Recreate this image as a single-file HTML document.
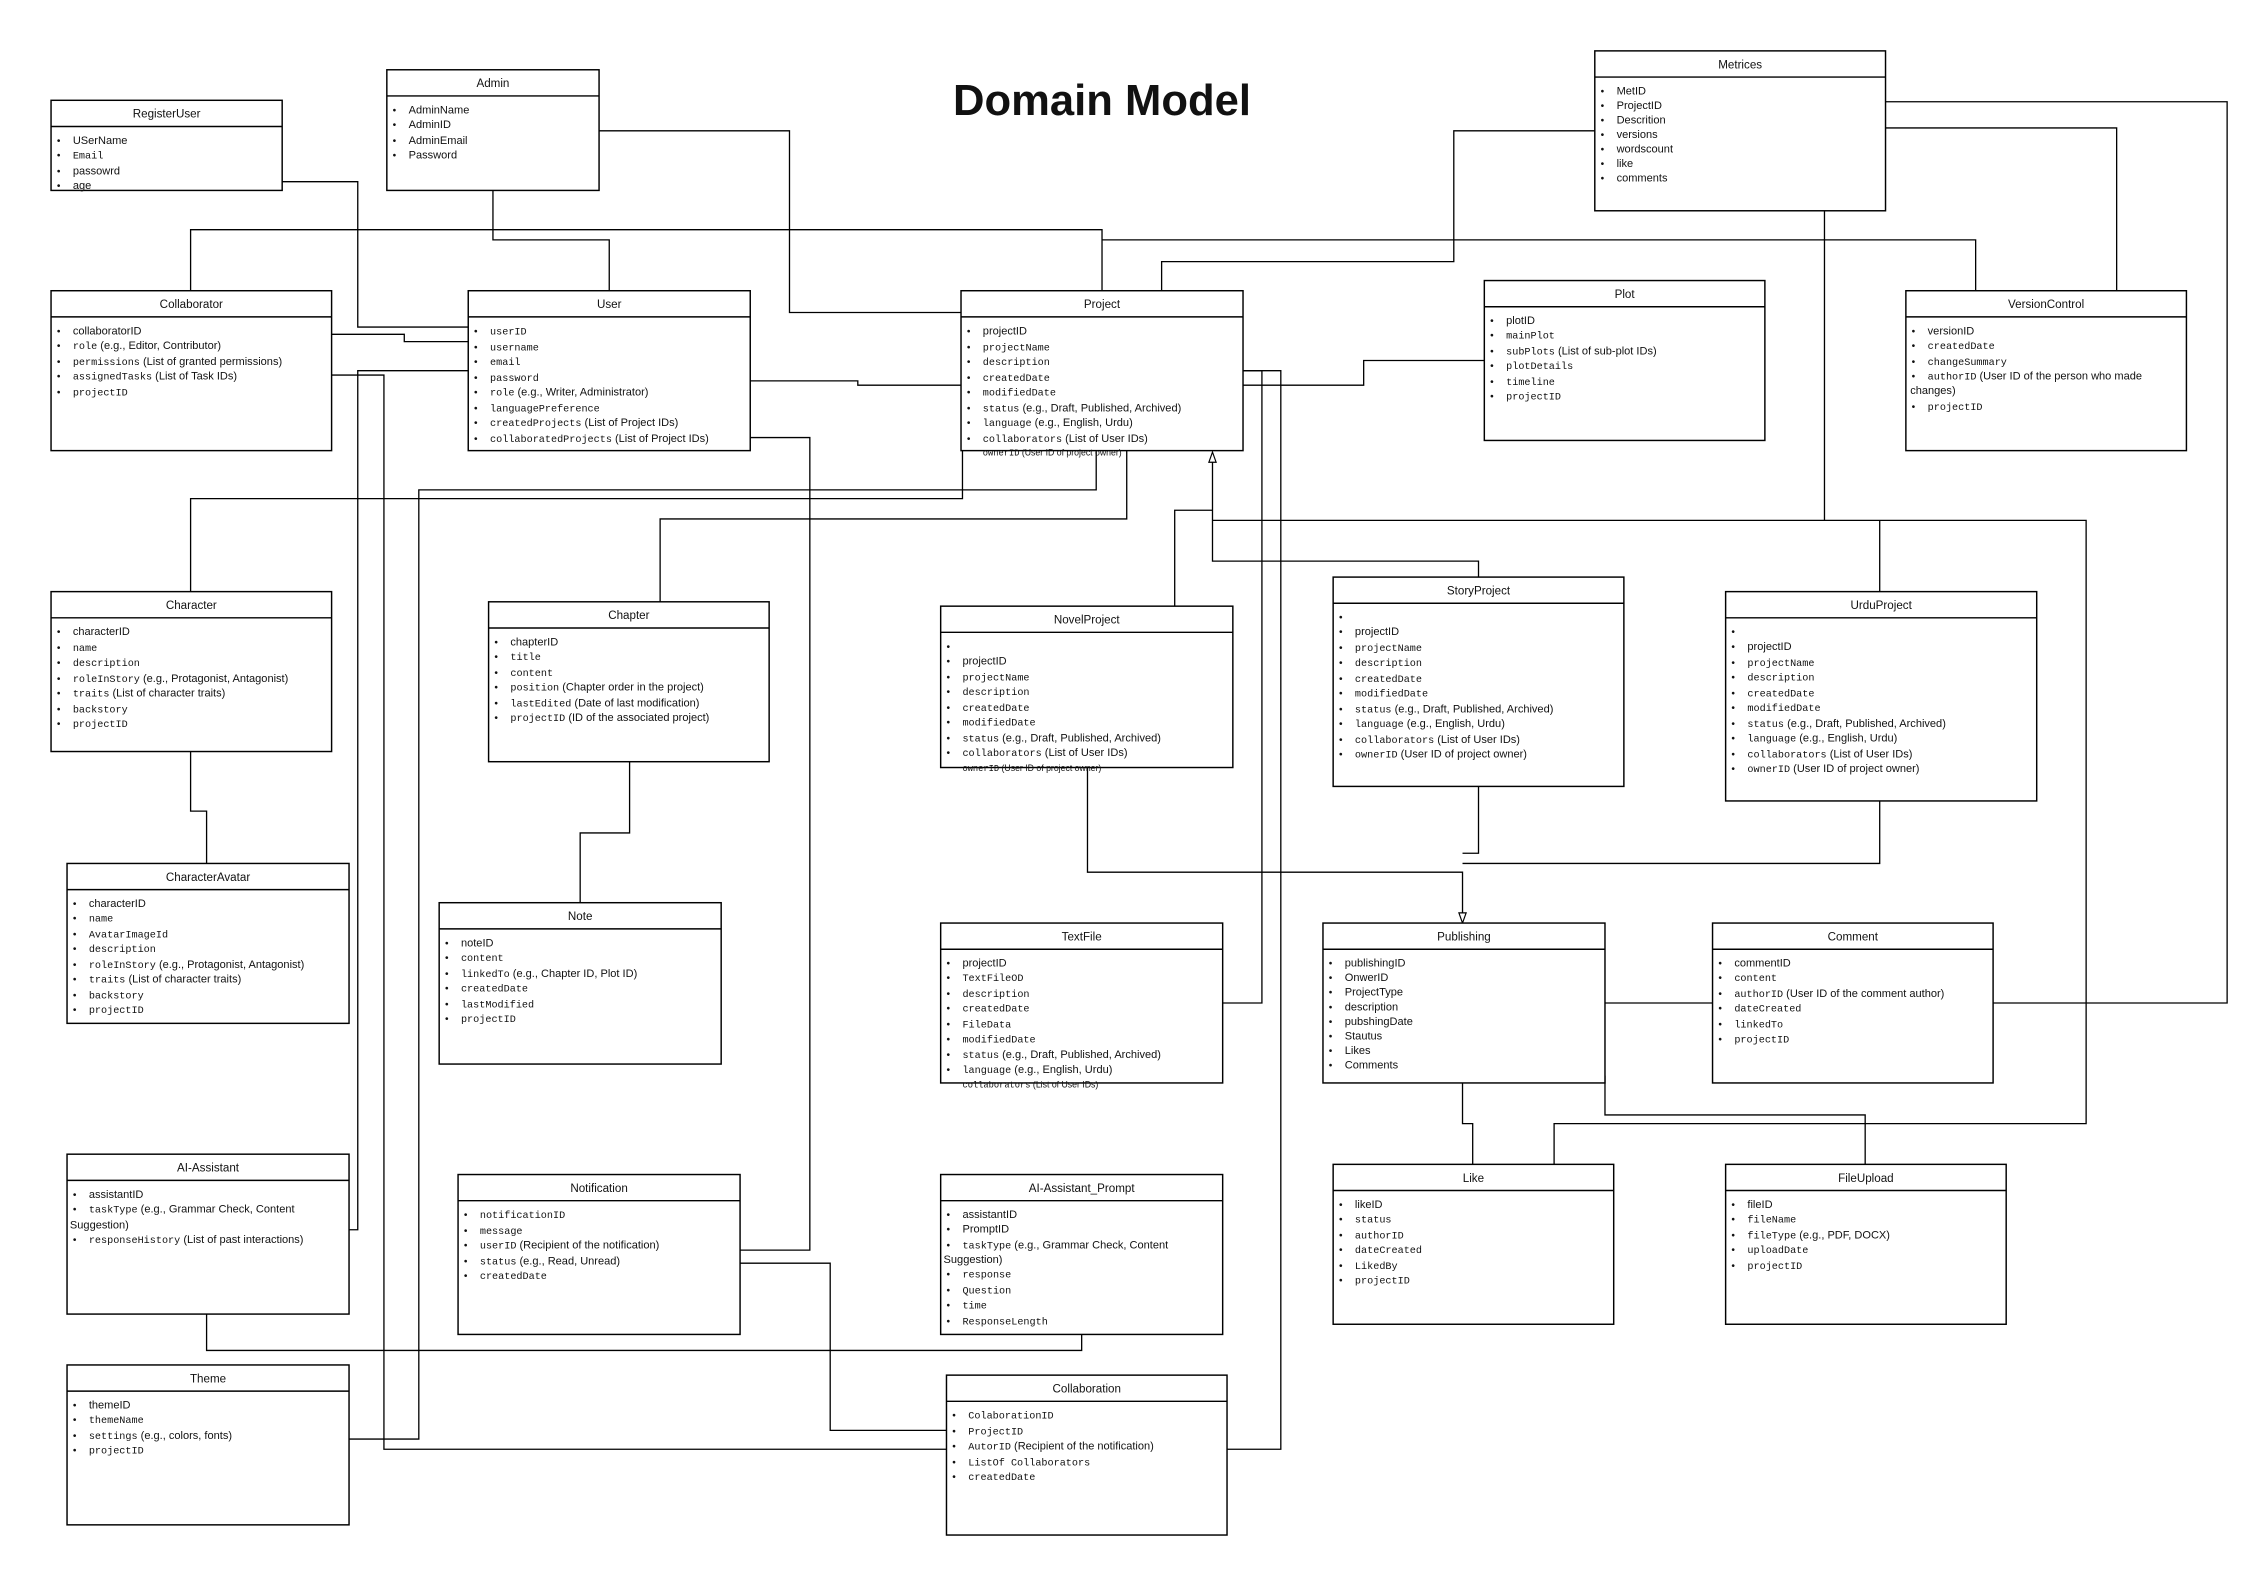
<!DOCTYPE html>
<html><head><meta charset="utf-8"><style>
html,body{margin:0;padding:0;background:#fff;}
svg{display:block;}
text{font-family:"Liberation Sans",sans-serif;font-size:7.6px;fill:#111;}
.h{font-size:8px;text-anchor:middle;}
.m{font-family:"Liberation Mono",monospace;font-size:7px;}
.b{font-size:7px;}
rect{fill:#fff;stroke:#000;stroke-width:1;}
.c{fill:none;stroke:#000;stroke-width:0.9;}
.sep{stroke:#000;stroke-width:1;}
</style></head><body>
<svg width="2268" height="1583" viewBox="0 0 1560 1089" xmlns="http://www.w3.org/2000/svg">
<!-- connectors -->
<g class="c">
<polyline class="c" points="194,125 246,125 246,225 322,225"/>
<polyline class="c" points="339,131 339,165 419,165 419,200"/>
<polyline class="c" points="412,90 543,90 543,215 661,215"/>
<polyline class="c" points="131,200 131,158 758,158 758,200"/>
<polyline class="c" points="758,165 1359,165 1359,200"/>
<polyline class="c" points="1097,90 1000,90 1000,180 799,180 799,200"/>
<polyline class="c" points="1297,70 1532,70 1532,690 1371,690"/>
<polyline class="c" points="1297,88 1456,88 1456,200"/>
<polyline class="c" points="1255,145 1255,358"/>
<polyline class="c" points="834,358 1435,358 1435,773 1069,773 1069,801"/>
<polyline class="c" points="1293,358 1293,407"/>
<polyline class="c" points="228,230 278,230 278,235 322,235"/>
<polyline class="c" points="228,258 264,258 264,997 651,997"/>
<polyline class="c" points="844,997 881,997 881,255 855,255"/>
<polyline class="c" points="240,990 288,990 288,337 754,337 754,310"/>
<polyline class="c" points="322,255 246,255 246,846 240,846"/>
<polyline class="c" points="516,262 590,262 590,265 661,265"/>
<polyline class="c" points="516,301 557,301 557,860 509,860"/>
<polyline class="c" points="509,869 571,869 571,984 651,984"/>
<polyline class="c" points="142,904 142,929 744,929 744,918"/>
<polyline class="c" points="855,255 868,255 868,690 841,690"/>
<polyline class="c" points="855,265 938,265 938,248 1021,248"/>
<polyline class="c" points="662,310 662,343 131,343 131,407"/>
<polyline class="c" points="775,310 775,357 454,357 454,414"/>
<polyline class="c" points="834,317 834,386 1017,386 1017,397"/>
<polyline class="c" points="834,351 808,351 808,417"/>
<polygon points="834,311 831.5,318 836.5,318" fill="#fff" stroke="#000" stroke-width="0.8"/>
<polyline class="c" points="433,524 433,573 399,573 399,621"/>
<polyline class="c" points="131,517 131,558 142,558 142,594"/>
<polyline class="c" points="748,528 748,600 1006,600 1006,629"/>
<polyline class="c" points="1017,541 1017,587 1006,587"/>
<polyline class="c" points="1293,551 1293,594 1006,594"/>
<polygon points="1006,635 1003.5,628 1008.5,628" fill="#fff" stroke="#000" stroke-width="0.8"/>
<polyline class="c" points="1104,690 1178,690"/>
<polyline class="c" points="1006,745 1006,773 1013,773 1013,801"/>
<polyline class="c" points="1104,740 1104,767 1283,767 1283,801"/>
</g>

<text x="758" y="79" style="font-size:30px;font-weight:bold;text-anchor:middle;">Domain Model</text>

<!-- RegisterUser -->
<rect x="35" y="69" width="159" height="62"/><line class="sep" x1="35" y1="87" x2="194" y2="87"/>
<text class="h" x="114.5" y="81">RegisterUser</text>
<text class="b" x="39" y="99">•</text><text x="50" y="99">USerName</text>
<text class="b" x="39" y="109">•</text><text class="m" x="50" y="109">Email</text>
<text class="b" x="39" y="120">•</text><text x="50" y="120">passowrd</text>
<text class="b" x="39" y="130">•</text><text x="50" y="130">age</text>

<!-- Admin -->
<rect x="266" y="48" width="146" height="83"/><line class="sep" x1="266" y1="66" x2="412" y2="66"/>
<text class="h" x="339" y="60">Admin</text>
<text class="b" x="270" y="78">•</text><text x="281" y="78">AdminName</text>
<text class="b" x="270" y="88">•</text><text x="281" y="88">AdminID</text>
<text class="b" x="270" y="99">•</text><text x="281" y="99">AdminEmail</text>
<text class="b" x="270" y="109">•</text><text x="281" y="109">Password</text>

<!-- Metrices -->
<rect x="1097" y="35" width="200" height="110"/><line class="sep" x1="1097" y1="53" x2="1297" y2="53"/>
<text class="h" x="1197" y="47">Metrices</text>
<text class="b" x="1101" y="65">•</text><text x="1112" y="65">MetID</text>
<text class="b" x="1101" y="75">•</text><text x="1112" y="75">ProjectID</text>
<text class="b" x="1101" y="85">•</text><text x="1112" y="85">Descrition</text>
<text class="b" x="1101" y="95">•</text><text x="1112" y="95">versions</text>
<text class="b" x="1101" y="105">•</text><text x="1112" y="105">wordscount</text>
<text class="b" x="1101" y="115">•</text><text x="1112" y="115">like</text>
<text class="b" x="1101" y="125">•</text><text x="1112" y="125">comments</text>

<!-- Collaborator -->
<rect x="35" y="200" width="193" height="110"/><line class="sep" x1="35" y1="218" x2="228" y2="218"/>
<text class="h" x="131.5" y="212">Collaborator</text>
<text class="b" x="39" y="230">•</text><text x="50" y="230">collaboratorID</text>
<text class="b" x="39" y="240">•</text><text x="50" y="240"><tspan class="m">role</tspan> (e.g., Editor, Contributor)</text>
<text class="b" x="39" y="251">•</text><text x="50" y="251"><tspan class="m">permissions</tspan> (List of granted permissions)</text>
<text class="b" x="39" y="261">•</text><text x="50" y="261"><tspan class="m">assignedTasks</tspan> (List of Task IDs)</text>
<text class="b" x="39" y="272">•</text><text class="m" x="50" y="272">projectID</text>

<!-- User -->
<rect x="322" y="200" width="194" height="110"/><line class="sep" x1="322" y1="218" x2="516" y2="218"/>
<text class="h" x="419" y="212">User</text>
<text class="b" x="326" y="230">•</text><text class="m" x="337" y="230">userID</text>
<text class="b" x="326" y="241">•</text><text class="m" x="337" y="241">username</text>
<text class="b" x="326" y="251">•</text><text class="m" x="337" y="251">email</text>
<text class="b" x="326" y="262">•</text><text class="m" x="337" y="262">password</text>
<text class="b" x="326" y="272">•</text><text x="337" y="272"><tspan class="m">role</tspan> (e.g., Writer, Administrator)</text>
<text class="b" x="326" y="283">•</text><text class="m" x="337" y="283">languagePreference</text>
<text class="b" x="326" y="293">•</text><text x="337" y="293"><tspan class="m">createdProjects</tspan> (List of Project IDs)</text>
<text class="b" x="326" y="304">•</text><text x="337" y="304"><tspan class="m">collaboratedProjects</tspan> (List of Project IDs)</text>

<!-- Project -->
<rect x="661" y="200" width="194" height="110"/><line class="sep" x1="661" y1="218" x2="855" y2="218"/>
<text class="h" x="758" y="212">Project</text>
<text class="b" x="665" y="230">•</text><text x="676" y="230">projectID</text>
<text class="b" x="665" y="241">•</text><text class="m" x="676" y="241">projectName</text>
<text class="b" x="665" y="251">•</text><text class="m" x="676" y="251">description</text>
<text class="b" x="665" y="262">•</text><text class="m" x="676" y="262">createdDate</text>
<text class="b" x="665" y="272">•</text><text class="m" x="676" y="272">modifiedDate</text>
<text class="b" x="665" y="283">•</text><text x="676" y="283"><tspan class="m">status</tspan> (e.g., Draft, Published, Archived)</text>
<text class="b" x="665" y="293">•</text><text x="676" y="293"><tspan class="m">language</tspan> (e.g., English, Urdu)</text>
<text class="b" x="665" y="304">•</text><text x="676" y="304"><tspan class="m">collaborators</tspan> (List of User IDs)</text>
<text x="676" y="313.5" style="font-size:6px"><tspan class="m" style="font-size:6px">ownerID</tspan> (User ID of project owner)</text>

<!-- Plot -->
<rect x="1021" y="193" width="193" height="110"/><line class="sep" x1="1021" y1="211" x2="1214" y2="211"/>
<text class="h" x="1117.5" y="205">Plot</text>
<text class="b" x="1025" y="223">•</text><text x="1036" y="223">plotID</text>
<text class="b" x="1025" y="233">•</text><text class="m" x="1036" y="233">mainPlot</text>
<text class="b" x="1025" y="244">•</text><text x="1036" y="244"><tspan class="m">subPlots</tspan> (List of sub-plot IDs)</text>
<text class="b" x="1025" y="254">•</text><text class="m" x="1036" y="254">plotDetails</text>
<text class="b" x="1025" y="265">•</text><text class="m" x="1036" y="265">timeline</text>
<text class="b" x="1025" y="275">•</text><text class="m" x="1036" y="275">projectID</text>

<!-- VersionControl -->
<rect x="1311" y="200" width="193" height="110"/><line class="sep" x1="1311" y1="218" x2="1504" y2="218"/>
<text class="h" x="1407.5" y="212">VersionControl</text>
<text class="b" x="1315" y="230">•</text><text x="1326" y="230">versionID</text>
<text class="b" x="1315" y="240">•</text><text class="m" x="1326" y="240">createdDate</text>
<text class="b" x="1315" y="251">•</text><text class="m" x="1326" y="251">changeSummary</text>
<text class="b" x="1315" y="261">•</text><text x="1326" y="261"><tspan class="m">authorID</tspan> (User ID of the person who made</text>
<text x="1314" y="271">changes)</text>
<text class="b" x="1315" y="282">•</text><text class="m" x="1326" y="282">projectID</text>

<!-- Character -->
<rect x="35" y="407" width="193" height="110"/><line class="sep" x1="35" y1="425" x2="228" y2="425"/>
<text class="h" x="131.5" y="419">Character</text>
<text class="b" x="39" y="437">•</text><text x="50" y="437">characterID</text>
<text class="b" x="39" y="448">•</text><text class="m" x="50" y="448">name</text>
<text class="b" x="39" y="458">•</text><text class="m" x="50" y="458">description</text>
<text class="b" x="39" y="469">•</text><text x="50" y="469"><tspan class="m">roleInStory</tspan> (e.g., Protagonist, Antagonist)</text>
<text class="b" x="39" y="479">•</text><text x="50" y="479"><tspan class="m">traits</tspan> (List of character traits)</text>
<text class="b" x="39" y="490">•</text><text class="m" x="50" y="490">backstory</text>
<text class="b" x="39" y="500">•</text><text class="m" x="50" y="500">projectID</text>

<!-- Chapter -->
<rect x="336" y="414" width="193" height="110"/><line class="sep" x1="336" y1="432" x2="529" y2="432"/>
<text class="h" x="432.5" y="426">Chapter</text>
<text class="b" x="340" y="444">•</text><text x="351" y="444">chapterID</text>
<text class="b" x="340" y="454">•</text><text class="m" x="351" y="454">title</text>
<text class="b" x="340" y="465">•</text><text class="m" x="351" y="465">content</text>
<text class="b" x="340" y="475">•</text><text x="351" y="475"><tspan class="m">position</tspan> (Chapter order in the project)</text>
<text class="b" x="340" y="486">•</text><text x="351" y="486"><tspan class="m">lastEdited</tspan> (Date of last modification)</text>
<text class="b" x="340" y="496">•</text><text x="351" y="496"><tspan class="m">projectID</tspan> (ID of the associated project)</text>

<!-- NovelProject -->
<rect x="647" y="417" width="201" height="111"/><line class="sep" x1="647" y1="435" x2="848" y2="435"/>
<text class="h" x="747.5" y="429">NovelProject</text>
<text class="b" x="651" y="447">•</text>
<text class="b" x="651" y="457">•</text><text x="662" y="457">projectID</text>
<text class="b" x="651" y="468">•</text><text class="m" x="662" y="468">projectName</text>
<text class="b" x="651" y="478">•</text><text class="m" x="662" y="478">description</text>
<text class="b" x="651" y="489">•</text><text class="m" x="662" y="489">createdDate</text>
<text class="b" x="651" y="499">•</text><text class="m" x="662" y="499">modifiedDate</text>
<text class="b" x="651" y="510">•</text><text x="662" y="510"><tspan class="m">status</tspan> (e.g., Draft, Published, Archived)</text>
<text class="b" x="651" y="520">•</text><text x="662" y="520"><tspan class="m">collaborators</tspan> (List of User IDs)</text>
<text x="662" y="530.5" style="font-size:6px"><tspan class="m" style="font-size:6px">ownerID</tspan> (User ID of project owner)</text>

<!-- StoryProject -->
<rect x="917" y="397" width="200" height="144"/><line class="sep" x1="917" y1="415" x2="1117" y2="415"/>
<text class="h" x="1017" y="409">StoryProject</text>
<text class="b" x="921" y="427">•</text>
<text class="b" x="921" y="437">•</text><text x="932" y="437">projectID</text>
<text class="b" x="921" y="448">•</text><text class="m" x="932" y="448">projectName</text>
<text class="b" x="921" y="458">•</text><text class="m" x="932" y="458">description</text>
<text class="b" x="921" y="469">•</text><text class="m" x="932" y="469">createdDate</text>
<text class="b" x="921" y="479">•</text><text class="m" x="932" y="479">modifiedDate</text>
<text class="b" x="921" y="490">•</text><text x="932" y="490"><tspan class="m">status</tspan> (e.g., Draft, Published, Archived)</text>
<text class="b" x="921" y="500">•</text><text x="932" y="500"><tspan class="m">language</tspan> (e.g., English, Urdu)</text>
<text class="b" x="921" y="511">•</text><text x="932" y="511"><tspan class="m">collaborators</tspan> (List of User IDs)</text>
<text class="b" x="921" y="521">•</text><text x="932" y="521"><tspan class="m">ownerID</tspan> (User ID of project owner)</text>

<!-- UrduProject -->
<rect x="1187" y="407" width="214" height="144"/><line class="sep" x1="1187" y1="425" x2="1401" y2="425"/>
<text class="h" x="1294" y="419">UrduProject</text>
<text class="b" x="1191" y="437">•</text>
<text class="b" x="1191" y="447">•</text><text x="1202" y="447">projectID</text>
<text class="b" x="1191" y="458">•</text><text class="m" x="1202" y="458">projectName</text>
<text class="b" x="1191" y="468">•</text><text class="m" x="1202" y="468">description</text>
<text class="b" x="1191" y="479">•</text><text class="m" x="1202" y="479">createdDate</text>
<text class="b" x="1191" y="489">•</text><text class="m" x="1202" y="489">modifiedDate</text>
<text class="b" x="1191" y="500">•</text><text x="1202" y="500"><tspan class="m">status</tspan> (e.g., Draft, Published, Archived)</text>
<text class="b" x="1191" y="510">•</text><text x="1202" y="510"><tspan class="m">language</tspan> (e.g., English, Urdu)</text>
<text class="b" x="1191" y="521">•</text><text x="1202" y="521"><tspan class="m">collaborators</tspan> (List of User IDs)</text>
<text class="b" x="1191" y="531">•</text><text x="1202" y="531"><tspan class="m">ownerID</tspan> (User ID of project owner)</text>

<!-- CharacterAvatar -->
<rect x="46" y="594" width="194" height="110"/><line class="sep" x1="46" y1="612" x2="240" y2="612"/>
<text class="h" x="143" y="606">CharacterAvatar</text>
<text class="b" x="50" y="624">•</text><text x="61" y="624">characterID</text>
<text class="b" x="50" y="634">•</text><text class="m" x="61" y="634">name</text>
<text class="b" x="50" y="645">•</text><text class="m" x="61" y="645">AvatarImageId</text>
<text class="b" x="50" y="655">•</text><text class="m" x="61" y="655">description</text>
<text class="b" x="50" y="666">•</text><text x="61" y="666"><tspan class="m">roleInStory</tspan> (e.g., Protagonist, Antagonist)</text>
<text class="b" x="50" y="676">•</text><text x="61" y="676"><tspan class="m">traits</tspan> (List of character traits)</text>
<text class="b" x="50" y="687">•</text><text class="m" x="61" y="687">backstory</text>
<text class="b" x="50" y="697">•</text><text class="m" x="61" y="697">projectID</text>

<!-- Note -->
<rect x="302" y="621" width="194" height="111"/><line class="sep" x1="302" y1="639" x2="496" y2="639"/>
<text class="h" x="399" y="633">Note</text>
<text class="b" x="306" y="651">•</text><text x="317" y="651">noteID</text>
<text class="b" x="306" y="661">•</text><text class="m" x="317" y="661">content</text>
<text class="b" x="306" y="672">•</text><text x="317" y="672"><tspan class="m">linkedTo</tspan> (e.g., Chapter ID, Plot ID)</text>
<text class="b" x="306" y="682">•</text><text class="m" x="317" y="682">createdDate</text>
<text class="b" x="306" y="693">•</text><text class="m" x="317" y="693">lastModified</text>
<text class="b" x="306" y="703">•</text><text class="m" x="317" y="703">projectID</text>

<!-- TextFile -->
<rect x="647" y="635" width="194" height="110"/><line class="sep" x1="647" y1="653" x2="841" y2="653"/>
<text class="h" x="744" y="647">TextFile</text>
<text class="b" x="651" y="665">•</text><text x="662" y="665">projectID</text>
<text class="b" x="651" y="675">•</text><text class="m" x="662" y="675">TextFileOD</text>
<text class="b" x="651" y="686">•</text><text class="m" x="662" y="686">description</text>
<text class="b" x="651" y="696">•</text><text class="m" x="662" y="696">createdDate</text>
<text class="b" x="651" y="707">•</text><text class="m" x="662" y="707">FileData</text>
<text class="b" x="651" y="717">•</text><text class="m" x="662" y="717">modifiedDate</text>
<text class="b" x="651" y="728">•</text><text x="662" y="728"><tspan class="m">status</tspan> (e.g., Draft, Published, Archived)</text>
<text class="b" x="651" y="738">•</text><text x="662" y="738"><tspan class="m">language</tspan> (e.g., English, Urdu)</text>
<text x="662" y="748" style="font-size:6px"><tspan class="m" style="font-size:6px">collaborators</tspan> (List of User IDs)</text>

<!-- Publishing -->
<rect x="910" y="635" width="194" height="110"/><line class="sep" x1="910" y1="653" x2="1104" y2="653"/>
<text class="h" x="1007" y="647">Publishing</text>
<text class="b" x="914" y="665">•</text><text x="925" y="665">publishingID</text>
<text class="b" x="914" y="675">•</text><text x="925" y="675">OnwerID</text>
<text class="b" x="914" y="685">•</text><text x="925" y="685">ProjectType</text>
<text class="b" x="914" y="695">•</text><text x="925" y="695">description</text>
<text class="b" x="914" y="705">•</text><text x="925" y="705">pubshingDate</text>
<text class="b" x="914" y="715">•</text><text x="925" y="715">Stautus</text>
<text class="b" x="914" y="725">•</text><text x="925" y="725">Likes</text>
<text class="b" x="914" y="735">•</text><text x="925" y="735">Comments</text>

<!-- Comment -->
<rect x="1178" y="635" width="193" height="110"/><line class="sep" x1="1178" y1="653" x2="1371" y2="653"/>
<text class="h" x="1274.5" y="647">Comment</text>
<text class="b" x="1182" y="665">•</text><text x="1193" y="665">commentID</text>
<text class="b" x="1182" y="675">•</text><text class="m" x="1193" y="675">content</text>
<text class="b" x="1182" y="686">•</text><text x="1193" y="686"><tspan class="m">authorID</tspan> (User ID of the comment author)</text>
<text class="b" x="1182" y="696">•</text><text class="m" x="1193" y="696">dateCreated</text>
<text class="b" x="1182" y="707">•</text><text class="m" x="1193" y="707">linkedTo</text>
<text class="b" x="1182" y="717">•</text><text class="m" x="1193" y="717">projectID</text>

<!-- AI-Assistant -->
<rect x="46" y="794" width="194" height="110"/><line class="sep" x1="46" y1="812" x2="240" y2="812"/>
<text class="h" x="143" y="806">AI-Assistant</text>
<text class="b" x="50" y="824">•</text><text x="61" y="824">assistantID</text>
<text class="b" x="50" y="834">•</text><text x="61" y="834"><tspan class="m">taskType</tspan> (e.g., Grammar Check, Content</text>
<text x="48" y="845">Suggestion)</text>
<text class="b" x="50" y="855">•</text><text x="61" y="855"><tspan class="m">responseHistory</tspan> (List of past interactions)</text>

<!-- Notification -->
<rect x="315" y="808" width="194" height="110"/><line class="sep" x1="315" y1="826" x2="509" y2="826"/>
<text class="h" x="412" y="820">Notification</text>
<text class="b" x="319" y="838">•</text><text class="m" x="330" y="838">notificationID</text>
<text class="b" x="319" y="849">•</text><text class="m" x="330" y="849">message</text>
<text class="b" x="319" y="859">•</text><text x="330" y="859"><tspan class="m">userID</tspan> (Recipient of the notification)</text>
<text class="b" x="319" y="870">•</text><text x="330" y="870"><tspan class="m">status</tspan> (e.g., Read, Unread)</text>
<text class="b" x="319" y="880">•</text><text class="m" x="330" y="880">createdDate</text>

<!-- AI-Assistant_Prompt -->
<rect x="647" y="808" width="194" height="110"/><line class="sep" x1="647" y1="826" x2="841" y2="826"/>
<text class="h" x="744" y="820">AI-Assistant_Prompt</text>
<text class="b" x="651" y="838">•</text><text x="662" y="838">assistantID</text>
<text class="b" x="651" y="848">•</text><text x="662" y="848">PromptID</text>
<text class="b" x="651" y="859">•</text><text x="662" y="859"><tspan class="m">taskType</tspan> (e.g., Grammar Check, Content</text>
<text x="649" y="869">Suggestion)</text>
<text class="b" x="651" y="879">•</text><text class="m" x="662" y="879">response</text>
<text class="b" x="651" y="890">•</text><text class="m" x="662" y="890">Question</text>
<text class="b" x="651" y="900">•</text><text class="m" x="662" y="900">time</text>
<text class="b" x="651" y="911">•</text><text class="m" x="662" y="911">ResponseLength</text>

<!-- Like -->
<rect x="917" y="801" width="193" height="110"/><line class="sep" x1="917" y1="819" x2="1110" y2="819"/>
<text class="h" x="1013.5" y="813">Like</text>
<text class="b" x="921" y="831">•</text><text x="932" y="831">likeID</text>
<text class="b" x="921" y="841">•</text><text class="m" x="932" y="841">status</text>
<text class="b" x="921" y="852">•</text><text class="m" x="932" y="852">authorID</text>
<text class="b" x="921" y="862">•</text><text class="m" x="932" y="862">dateCreated</text>
<text class="b" x="921" y="873">•</text><text class="m" x="932" y="873">LikedBy</text>
<text class="b" x="921" y="883">•</text><text class="m" x="932" y="883">projectID</text>

<!-- FileUpload -->
<rect x="1187" y="801" width="193" height="110"/><line class="sep" x1="1187" y1="819" x2="1380" y2="819"/>
<text class="h" x="1283.5" y="813">FileUpload</text>
<text class="b" x="1191" y="831">•</text><text x="1202" y="831">fileID</text>
<text class="b" x="1191" y="841">•</text><text class="m" x="1202" y="841">fileName</text>
<text class="b" x="1191" y="852">•</text><text x="1202" y="852"><tspan class="m">fileType</tspan> (e.g., PDF, DOCX)</text>
<text class="b" x="1191" y="862">•</text><text class="m" x="1202" y="862">uploadDate</text>
<text class="b" x="1191" y="873">•</text><text class="m" x="1202" y="873">projectID</text>

<!-- Theme -->
<rect x="46" y="939" width="194" height="110"/><line class="sep" x1="46" y1="957" x2="240" y2="957"/>
<text class="h" x="143" y="951">Theme</text>
<text class="b" x="50" y="969">•</text><text x="61" y="969">themeID</text>
<text class="b" x="50" y="979">•</text><text class="m" x="61" y="979">themeName</text>
<text class="b" x="50" y="990">•</text><text x="61" y="990"><tspan class="m">settings</tspan> (e.g., colors, fonts)</text>
<text class="b" x="50" y="1000">•</text><text class="m" x="61" y="1000">projectID</text>

<!-- Collaboration -->
<rect x="651" y="946" width="193" height="110"/><line class="sep" x1="651" y1="964" x2="844" y2="964"/>
<text class="h" x="747.5" y="958">Collaboration</text>
<text class="b" x="655" y="976">•</text><text class="m" x="666" y="976">ColaborationID</text>
<text class="b" x="655" y="987">•</text><text class="m" x="666" y="987">ProjectID</text>
<text class="b" x="655" y="997">•</text><text x="666" y="997"><tspan class="m">AutorID</tspan> (Recipient of the notification)</text>
<text class="b" x="655" y="1008">•</text><text class="m" x="666" y="1008">ListOf Collaborators</text>
<text class="b" x="655" y="1018">•</text><text class="m" x="666" y="1018">createdDate</text>
</svg>
</body></html>
